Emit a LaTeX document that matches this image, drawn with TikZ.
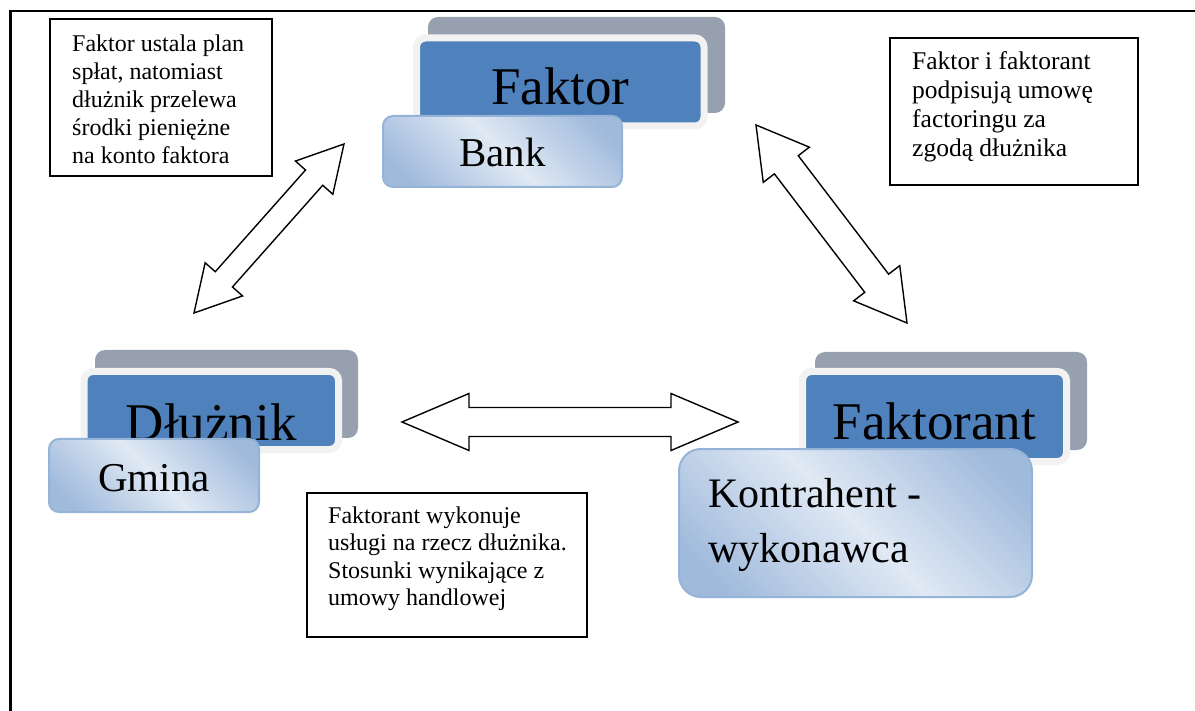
\documentclass[tikz,border=0pt]{standalone}
\usepackage{fontspec}
\setmainfont{Liberation Serif}
\usetikzlibrary{calc}

\definecolor{shadowgray}{HTML}{96A0AF}
\definecolor{rimgray}{HTML}{F2F2F2}
\definecolor{titleblue}{HTML}{4F81BD}
\definecolor{subedge}{HTML}{95B3D7}
\definecolor{subdark}{HTML}{A0BADC}
\definecolor{sublight}{HTML}{E0E9F4}

% light band along one diagonal, darker towards the other two corners
\pgfdeclarehorizontalshading{subshade}{100bp}{%
  color(0bp)=(subdark); color(22bp)=(subdark); color(50bp)=(sublight);
  color(78bp)=(subdark); color(100bp)=(subdark)}

% outlined double-headed block arrow between two tips
% #1,#2 tips; #3 head length; #4 half head width; #5 half shaft width
\newcommand\dblarrow[5]{%
  \draw[blockarrow]
    (#1)
    -- ($($(#1)!#3!(#2)$)!#4!90:(#2)$)
    -- ($($(#1)!#3!(#2)$)!#5!90:(#2)$)
    -- ($($(#2)!#3!(#1)$)!#5!-90:(#1)$)
    -- ($($(#2)!#3!(#1)$)!#4!-90:(#1)$)
    -- (#2)
    -- ($($(#2)!#3!(#1)$)!#4!90:(#1)$)
    -- ($($(#2)!#3!(#1)$)!#5!90:(#1)$)
    -- ($($(#1)!#3!(#2)$)!#5!-90:(#2)$)
    -- ($($(#1)!#3!(#2)$)!#4!-90:(#2)$)
    -- cycle;}

\tikzset{
  frameline/.style={line width=2.3pt},
  shadowbox/.style={fill=shadowgray, rounded corners=10pt, anchor=north west,
    inner sep=0pt, outer sep=0pt},
  titlebox/.style={fill=titleblue, draw=rimgray, line width=7pt, rounded corners=9pt,
    anchor=north west, inner sep=0pt, outer sep=0pt,
    font=\fontsize{53pt}{60pt}\selectfont, text height=46pt, text depth=0pt},
  subbox/.style={shading=subshade, shading angle=45, draw=subedge, line width=2pt,
    rounded corners=10pt, anchor=north west, inner sep=0pt, outer sep=0pt,
    font=\fontsize{41pt}{48pt}\selectfont, text height=31pt, text depth=0pt},
  notebox/.style={draw, line width=1.3pt, anchor=north west, inner sep=0pt, outer sep=0pt},
  notetext/.style={align=left, anchor=north west, inner sep=0pt},
  blockarrow/.style={draw=black, fill=white, line width=1.4pt, line join=miter},
}

\begin{document}
\begin{tikzpicture}[x=1pt, y=-1pt]
\useasboundingbox (0,0) rectangle (1195,711);

% page frame
\draw[frameline] (10.5,712) -- (10.5,11) -- (1195,11);

% Faktor / Bank
\node[shadowbox, minimum width=297pt, minimum height=96pt] (faktorShadow) at (428,17) {};
\node[titlebox, minimum width=287.5pt, minimum height=88pt] (faktor) at (416.5,38) {Faktor};
\node[subbox, minimum width=239pt, minimum height=71pt] (bank) at (383,116) {Bank};

% Dłużnik / Gmina
\node[shadowbox, minimum width=263pt, minimum height=88pt] (dluznikShadow) at (95,350) {};
\node[titlebox, text height=59pt, minimum width=254.5pt, minimum height=78pt] (dluznik) at (84,371.5) {Dłużnik};
\node[subbox, minimum width=210pt, minimum height=73pt] (gmina) at (49,439) {Gmina};

% Faktorant / Kontrahent
\node[shadowbox, minimum width=272pt, minimum height=98pt] (faktorantShadow) at (815,352) {};
\node[titlebox, minimum width=264pt, minimum height=90pt] (faktorant) at (802.5,371.5) {Faktorant};
\node[subbox, rounded corners=22pt, minimum width=353pt, minimum height=148pt] (kontrahent) at (679,449) {};
\node[notetext, font=\fontsize{42pt}{55pt}\selectfont] (kontrahentText) at (708,478.3)
  {Kontrahent -\\wykonawca};

% notes
\node[notebox, minimum width=222pt, minimum height=157pt] (noteA) at (50,19) {};
\node[notetext, font=\fontsize{24pt}{28pt}\selectfont] (noteAText) at (72,34.6)
  {Faktor ustala plan\\spłat, natomiast\\dłużnik przelewa\\środki pieniężne\\na konto faktora};

\node[notebox, minimum width=248pt, minimum height=147pt] (noteB) at (890,38) {};
\node[notetext, font=\fontsize{25.5pt}{29pt}\selectfont] (noteBText) at (912,51.6)
  {Faktor i faktorant\\podpisują umowę\\factoringu za\\zgodą dłużnika};

\node[notebox, minimum width=280pt, minimum height=144pt] (noteC) at (307,493) {};
\node[notetext, font=\fontsize{24pt}{27.5pt}\selectfont] (noteCText) at (328,506.6)
  {Faktorant wykonuje\\usługi na rzecz dłużnika.\\Stosunki wynikające z\\umowy handlowej};

% arrow tips
\coordinate (arrDF1) at (194,313);
\coordinate (arrDF2) at (344,144);
\coordinate (arrFK1) at (756,125);
\coordinate (arrFK2) at (907,323);
\coordinate (arrDK1) at (402,422);
\coordinate (arrDK2) at (738,422);

\dblarrow{arrDF1}{arrDF2}{45pt}{25pt}{11.5pt}
\dblarrow{arrFK1}{arrFK2}{50pt}{29pt}{15pt}
\dblarrow{arrDK1}{arrDK2}{67pt}{28.5pt}{14.5pt}

\end{tikzpicture}
\end{document}
